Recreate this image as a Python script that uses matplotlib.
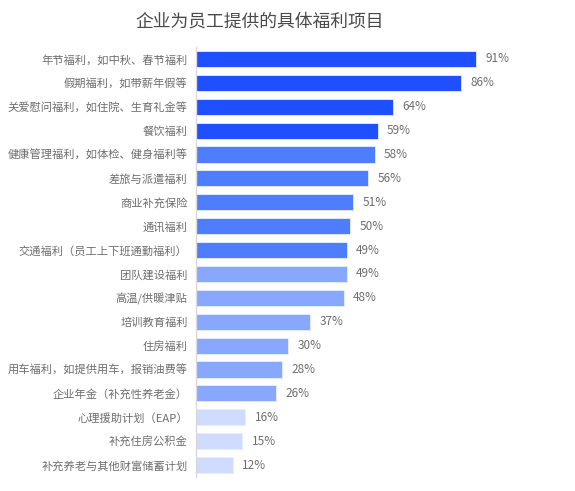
import matplotlib
matplotlib.use("Agg")
import matplotlib.pyplot as plt

plt.rcParams['font.family'] = ['Noto Sans CJK SC', 'DejaVu Sans']

# data
items = [
    "年节福利，如中秋、春节福利",
    "假期福利，如带薪年假等",
    "关爱慰问福利，如住院、生育礼金等",
    "餐饮福利",
    "健康管理福利，如体检、健身福利等",
    "差旅与派遣福利",
    "商业补充保险",
    "通讯福利",
    "交通福利（员工上下班通勤福利）",
    "团队建设福利",
    "高温/供暖津贴",
    "培训教育福利",
    "住房福利",
    "用车福利，如提供用车，报销油费等",
    "企业年金（补充性养老金）",
    "心理援助计划（EAP）",
    "补充住房公积金",
    "补充养老与其他财富储蓄计划",
]
values = [91, 86, 64, 59, 58, 56, 51, 50, 49, 49, 48, 37, 30, 28, 26, 16, 15, 12]
tiers = [0, 0, 0, 0, 1, 1, 1, 1, 1, 2, 2, 2, 2, 2, 2, 3, 3, 3]
tier_colors = ["#1f50ff", "#4f7dff", "#88a8ff", "#d0dcff"]

title = "企业为员工提供的具体福利项目"
text_color = "#6e6e6e"

fig = plt.figure(figsize=(5.75, 4.91), dpi=100)
ax = fig.add_axes([196 / 575, 1 - 477 / 491, 308 / 575, 430 / 491])

ypos = list(range(len(items)))
colors = [tier_colors[t] for t in tiers]
ax.barh(ypos, values, height=0.67, color=colors, edgecolor="#e8eeff", linewidth=0.6)

for y, v in zip(ypos, values):
    ax.text(v + 3.0, y, f"{v}%", va="center", ha="left", fontsize=8.5, color=text_color)

ax.set_xlim(0, 100)
ax.set_ylim(len(items) - 0.5, -0.5)
ax.set_yticks(ypos)
ax.set_yticklabels(items, fontsize=8.1, color=text_color)
ax.tick_params(axis="y", length=0, pad=6)
ax.set_xticks([])
for side in ["top", "right", "bottom"]:
    ax.spines[side].set_visible(False)
ax.spines["left"].set_color("#d9d9d9")
ax.spines["left"].set_linewidth(1)

fig.text(260 / 575, 1 - 22 / 491, title, ha="center", va="center",
         fontsize=12.8, color="#4a4a4a")

fig.savefig("out.png", dpi=100)
